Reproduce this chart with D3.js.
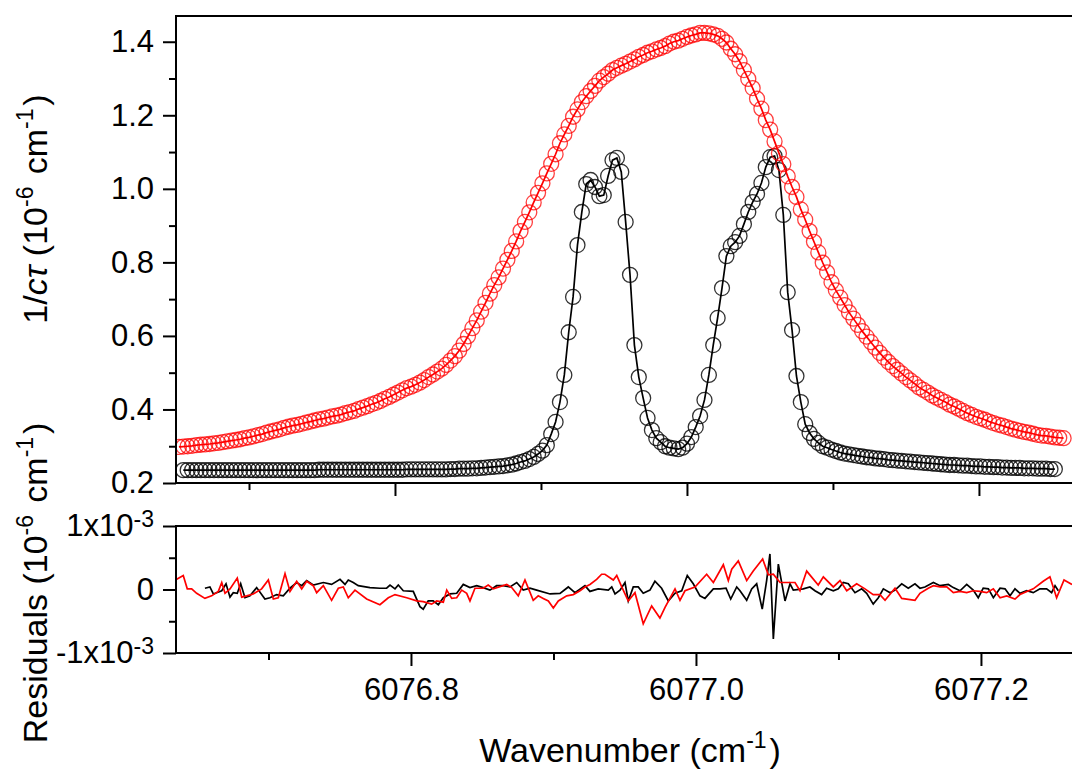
<!DOCTYPE html>
<html>
<head>
<meta charset="utf-8">
<script src="https://cdnjs.cloudflare.com/ajax/libs/d3/7.8.5/d3.min.js"></script>
<style>
  body { margin: 0; background: #fff; }
  text { font-family: "Liberation Sans", Arial, sans-serif; fill: #000; }
</style>
</head>
<body>
<div class="chart"></div>
<script>
// Wavenumber grid shared by both spectra (cm-1)
var wavenumber = [
  6076.652, 6076.655, 6076.658, 6076.661, 6076.664, 6076.667, 6076.670, 6076.673, 6076.676, 6076.679,
  6076.682, 6076.685, 6076.688, 6076.691, 6076.694, 6076.697, 6076.700, 6076.703, 6076.706, 6076.709,
  6076.712, 6076.715, 6076.718, 6076.721, 6076.724, 6076.727, 6076.730, 6076.733, 6076.736, 6076.739,
  6076.742, 6076.745, 6076.748, 6076.751, 6076.754, 6076.757, 6076.760, 6076.763, 6076.766, 6076.769,
  6076.772, 6076.775, 6076.778, 6076.781, 6076.784, 6076.787, 6076.790, 6076.793, 6076.796, 6076.799,
  6076.802, 6076.805, 6076.808, 6076.811, 6076.814, 6076.817, 6076.820, 6076.823, 6076.826, 6076.829,
  6076.832, 6076.835, 6076.838, 6076.841, 6076.844, 6076.847, 6076.850, 6076.853, 6076.856, 6076.859,
  6076.862, 6076.865, 6076.868, 6076.871, 6076.874, 6076.877, 6076.880, 6076.883, 6076.886, 6076.889,
  6076.892, 6076.895, 6076.898, 6076.901, 6076.904, 6076.907, 6076.910, 6076.913, 6076.916, 6076.919,
  6076.922, 6076.925, 6076.928, 6076.931, 6076.934, 6076.937, 6076.940, 6076.943, 6076.946, 6076.949,
  6076.952, 6076.955, 6076.958, 6076.961, 6076.964, 6076.967, 6076.970, 6076.973, 6076.976, 6076.979,
  6076.982, 6076.985, 6076.988, 6076.991, 6076.994, 6076.997, 6077.000, 6077.003, 6077.006, 6077.009,
  6077.012, 6077.015, 6077.018, 6077.021, 6077.024, 6077.027, 6077.030, 6077.033, 6077.036, 6077.039,
  6077.042, 6077.045, 6077.048, 6077.051, 6077.054, 6077.057, 6077.060, 6077.063, 6077.066, 6077.069,
  6077.072, 6077.075, 6077.078, 6077.081, 6077.084, 6077.087, 6077.090, 6077.093, 6077.096, 6077.099,
  6077.102, 6077.105, 6077.108, 6077.111, 6077.114, 6077.117, 6077.120, 6077.123, 6077.126, 6077.129,
  6077.132, 6077.135, 6077.138, 6077.141, 6077.144, 6077.147, 6077.150, 6077.153, 6077.156, 6077.159,
  6077.162, 6077.165, 6077.168, 6077.171, 6077.174, 6077.177, 6077.180, 6077.183, 6077.186, 6077.189,
  6077.192, 6077.195, 6077.198, 6077.201, 6077.204, 6077.207, 6077.210, 6077.213, 6077.216, 6077.219,
  6077.222, 6077.225, 6077.228, 6077.231, 6077.234, 6077.237, 6077.240, 6077.243, 6077.246, 6077.249,
  6077.252, 6077.255, 6077.258
];

// 1/c tau, narrow spectrum (black), 10^-6 cm-1
var blackObs = [
  null,
  0.235, 0.235, 0.235, 0.235, 0.235, 0.235, 0.235, 0.235, 0.235, 0.235,
  0.235, 0.235, 0.235, 0.235, 0.235, 0.235, 0.235, 0.235, 0.235, 0.235,
  0.235, 0.235, 0.235, 0.235, 0.235, 0.235, 0.235, 0.235, 0.235, 0.235, 0.235,
  0.236, 0.236, 0.236, 0.236, 0.236, 0.236, 0.236, 0.236, 0.236, 0.236,
  0.236, 0.236, 0.236, 0.236, 0.236, 0.236, 0.236, 0.236, 0.236, 0.236,
  0.237, 0.237, 0.237, 0.237, 0.237, 0.237, 0.237, 0.237, 0.237, 0.237,
  0.238, 0.238, 0.239, 0.239, 0.239, 0.240, 0.240,
  0.241, 0.242, 0.243, 0.244, 0.245, 0.246, 0.248, 0.250, 0.253, 0.257,
  0.260, 0.265, 0.271, 0.279, 0.288, 0.303, 0.333, 0.366, 0.420, 0.494,
  0.610, 0.706, 0.847, 0.937, 1.013, 1.024, 1.005, 0.980, 0.983, 1.035,
  1.078, 1.084, 1.046, 0.910, 0.766, 0.575, 0.488, 0.431, 0.377, 0.344,
  0.322, 0.311, 0.300, 0.296, 0.294, 0.292, 0.296, 0.307, 0.325, 0.352,
  0.382, 0.426, 0.494, 0.575, 0.649, 0.730, 0.817, 0.844, 0.855, 0.872,
  0.904, 0.937, 0.964, 0.986, 1.016, 1.059, 1.086, 1.089, 1.051, 0.929,
  0.719, 0.616, 0.491, 0.420, 0.360, 0.336, 0.320, 0.309, 0.300, 0.296,
  0.291, 0.287, 0.283,
  0.280, 0.278, 0.276, 0.274, 0.272, 0.270, 0.269, 0.267, 0.266, 0.265,
  0.263, 0.262, 0.261, 0.260, 0.259, 0.258, 0.257, 0.256, 0.255, 0.254,
  0.253, 0.252, 0.251, 0.250, 0.249, 0.249, 0.248, 0.247, 0.247, 0.246,
  0.245, 0.245, 0.244, 0.244, 0.243, 0.243, 0.242, 0.242, 0.241, 0.241,
  0.241, 0.240, 0.240, 0.240, 0.239, 0.239, 0.239, 0.238, 0.238,
  null, null
];

// 1/c tau, broadened spectrum (red), 10^-6 cm-1
var redObs = [
  0.298, 0.299, 0.300, 0.301, 0.303, 0.304, 0.305, 0.306, 0.308, 0.309,
  0.311, 0.313, 0.315, 0.317, 0.319, 0.322, 0.324, 0.327, 0.330, 0.333,
  0.337, 0.340, 0.343, 0.346, 0.350, 0.353, 0.356, 0.358, 0.361, 0.364,
  0.367, 0.370, 0.373, 0.375, 0.378, 0.381, 0.383, 0.386, 0.390, 0.393,
  0.396, 0.401, 0.405, 0.409, 0.414, 0.418, 0.423, 0.429, 0.434, 0.440,
  0.446, 0.452, 0.458, 0.462, 0.467, 0.473, 0.480, 0.488, 0.495, 0.503,
  0.511, 0.521, 0.533, 0.545, 0.560, 0.578, 0.599, 0.621, 0.642, 0.666,
  0.690, 0.715, 0.738, 0.759, 0.783, 0.807, 0.831, 0.857, 0.885, 0.910,
  0.936, 0.963, 0.989, 1.015, 1.042, 1.068, 1.094, 1.124, 1.148, 1.171,
  1.196, 1.216, 1.236, 1.252, 1.266, 1.280, 1.294, 1.304, 1.313, 1.323,
  1.329, 1.335, 1.340, 1.346, 1.352, 1.359, 1.364, 1.370, 1.374, 1.379,
  1.383, 1.388, 1.395, 1.400, 1.403, 1.408, 1.413, 1.417, 1.420, 1.424,
  1.424, 1.423, 1.420, 1.416, 1.408, 1.398, 1.381, 1.366, 1.347, 1.323,
  1.299, 1.274, 1.245, 1.218, 1.187, 1.161, 1.129, 1.097, 1.067, 1.034,
  1.005, 0.978, 0.944, 0.916, 0.885, 0.856, 0.827, 0.799, 0.773, 0.746,
  0.724, 0.704, 0.684, 0.664, 0.647, 0.630, 0.613, 0.598, 0.583, 0.568,
  0.554, 0.541, 0.529, 0.518, 0.508, 0.498, 0.488, 0.479, 0.470, 0.460,
  0.453, 0.446, 0.438, 0.432, 0.426, 0.420, 0.413, 0.408, 0.402, 0.396,
  0.390, 0.385, 0.380, 0.376, 0.372, 0.367, 0.363, 0.359, 0.356, 0.352,
  0.348, 0.345, 0.342, 0.339, 0.337, 0.334, 0.331, 0.329, 0.328, 0.326,
  0.324, 0.323, 0.322
];

// fit residuals [wavenumber, residual]
var resBlack = [
  [6076.6554, 0.00002], [6076.6589, 0.00004], [6076.6613, -0.00007], [6076.6636, -0.00005],
  [6076.6672, -0.00002], [6076.6702, 0.00009], [6076.6730, -0.00012], [6076.6753, -0.00005],
  [6076.6781, -0.00006], [6076.6805, 0.00009], [6076.6835, -0.00013], [6076.6870, -0.00010],
  [6076.6917, 0.00003], [6076.6975, -0.00015], [6076.7010, -0.00013], [6076.7057, -0.00008],
  [6076.7104, -0.00010], [6076.7151, 0.00002], [6076.7198, 0.00011], [6076.7233, 0.00006],
  [6076.7268, 0.00014], [6076.7314, 0.00007], [6076.7385, 0.00011], [6076.7443, 0.00008],
  [6076.7502, 0.00016], [6076.7537, 0.00008], [6076.7560, 0.00015], [6076.7595, 0.00011],
  [6076.7630, 0.00006], [6076.7712, 0.00003], [6076.7782, 0.00002], [6076.7829, 0.00002],
  [6076.7853, 0.00007], [6076.7888, 0.00001], [6076.7911, 0.00007], [6076.7946, -0.00002],
  [6076.8016, -0.00003], [6076.8063, -0.00027], [6076.8086, -0.00031], [6076.8121, -0.00018],
  [6076.8156, -0.00018], [6076.8192, -0.00024], [6076.8227, -0.00013], [6076.8274, -0.00007],
  [6076.8321, -0.00006], [6076.8367, 0.00008], [6076.8414, 0.00003], [6076.8461, 0.00006],
  [6076.8507, 0.00003], [6076.8554, -0.00001], [6076.8601, 0.00006], [6076.8648, 0.00006],
  [6076.8695, 0.00004], [6076.8742, 0.00011], [6076.8788, -0.00001], [6076.8835, 0.00002],
  [6076.8882, -0.00001], [6076.8976, -0.00007], [6076.9046, -0.00006], [6076.9104, 0.00004],
  [6076.9151, -0.00005], [6076.9221, 0.00006], [6076.9256, -0.00003], [6076.9314, 0.00001],
  [6076.9385, -0.00001], [6076.9409, 0.00004], [6076.9432, -0.00007], [6076.9467, -0.00001],
  [6076.9502, 0.00011], [6076.9525, -0.00018], [6076.9560, 0.00004], [6076.9595, 0.00004],
  [6076.9630, -0.00006], [6076.9677, -0.00001], [6076.9712, 0.00013], [6076.9759, 0.00002],
  [6076.9806, -0.00018], [6076.9853, -0.00006], [6076.9900, -0.00002], [6076.9939, 0.00022],
  [6076.9981, 0.00009], [6077.0028, -0.00010], [6077.0063, -0.00014], [6077.0122, 0.00001],
  [6077.0169, 0.00001], [6077.0211, 0.00002], [6077.0244, -0.00015], [6077.0286, 0.00004],
  [6077.0309, -0.00002], [6077.0356, -0.00017], [6077.0391, 0.00001], [6077.0426, 0.00009],
  [6077.0465, -0.00031], [6077.0496, 0.00014], [6077.0519, 0.00056], [6077.0543, -0.00078],
  [6077.0578, 0.00040], [6077.0625, -0.00018], [6077.0660, 0.00009], [6077.0683, -0.00001],
  [6077.0753, 0.00001], [6077.0800, 0.00004], [6077.0835, -0.00002], [6077.0882, -0.00008],
  [6077.0917, 0.00002], [6077.0964, -0.00002], [6077.0999, 0.00001], [6077.1034, 0.00011],
  [6077.1069, 0.00009], [6077.1116, -0.00005], [6077.1163, 0.00001], [6077.1198, -0.00006],
  [6077.1244, -0.00023], [6077.1280, -0.00013], [6077.1315, 0.00001], [6077.1362, -0.00005],
  [6077.1397, -0.00001], [6077.1444, 0.00009], [6077.1490, 0.00002], [6077.1537, 0.00009],
  [6077.1572, 0.00002], [6077.1607, 0.00004], [6077.1666, 0.00011], [6077.1713, 0.00006],
  [6077.1771, 0.00008], [6077.1806, 0.00003], [6077.1853, -0.00002], [6077.1900, 0.00008],
  [6077.1946, -0.00001], [6077.1981, -0.00013], [6077.2016, 0.00002], [6077.2052, 0.00001],
  [6077.2087, -0.00013], [6077.2134, 0.00002], [6077.2169, 0.00001], [6077.2204, -0.00010],
  [6077.2239, 0.00001], [6077.2274, -0.00006], [6077.2321, -0.00002], [6077.2367, -0.00005],
  [6077.2414, 0.00001], [6077.2461, 0.00001], [6077.2496, -0.00005], [6077.2520, 0.00006],
  [6077.2543, -0.00002]
];

var resRed = [
  [6076.6356, 0.00016], [6076.6402, 0.00022], [6076.6430, 0.00001], [6076.6461, 0.00001],
  [6076.6496, -0.00006], [6076.6554, -0.00014], [6076.6601, -0.00010], [6076.6648, -0.00003],
  [6076.6672, 0.00011], [6076.6695, -0.00006], [6076.6730, 0.00001], [6076.6781, 0.00018],
  [6076.6812, -0.00012], [6076.6847, -0.00010], [6076.6893, -0.00007], [6076.6952, 0.00001],
  [6076.6999, 0.00015], [6076.7034, -0.00015], [6076.7069, -0.00013], [6076.7116, 0.00025],
  [6076.7151, -0.00003], [6076.7198, 0.00013], [6076.7233, 0.00001], [6076.7268, 0.00013],
  [6076.7314, 0.00006], [6076.7338, -0.00005], [6076.7385, 0.00006], [6076.7443, -0.00017],
  [6076.7490, 0.00002], [6076.7525, 0.00004], [6076.7560, -0.00013], [6076.7607, -0.00001],
  [6076.7689, -0.00015], [6076.7782, -0.00024], [6076.7841, -0.00013], [6076.7888, -0.00008],
  [6076.7970, -0.00013], [6076.8040, -0.00018], [6076.8086, -0.00019], [6076.8145, -0.00023],
  [6076.8180, -0.00018], [6076.8227, -0.00020], [6076.8251, -0.00001], [6076.8286, -0.00014],
  [6076.8321, -0.00013], [6076.8356, -0.00001], [6076.8391, -0.00006], [6076.8414, -0.00018],
  [6076.8449, 0.00002], [6076.8507, 0.00002], [6076.8542, 0.00007], [6076.8578, 0.00001],
  [6076.8672, 0.00008], [6076.8707, 0.00003], [6076.8753, -0.00010], [6076.8800, 0.00015],
  [6076.8858, -0.00017], [6076.8893, -0.00010], [6076.8928, -0.00014], [6076.8964, -0.00018],
  [6076.8999, -0.00029], [6076.9034, -0.00018], [6076.9093, -0.00010], [6076.9139, -0.00008],
  [6076.9186, -0.00002], [6076.9221, 0.00004], [6076.9256, 0.00008], [6076.9303, 0.00016],
  [6076.9338, 0.00024], [6076.9361, 0.00024], [6076.9420, 0.00015], [6076.9444, 0.00022],
  [6076.9479, 0.00004], [6076.9525, -0.00018], [6076.9572, -0.00005], [6076.9630, -0.00054],
  [6076.9689, -0.00026], [6076.9747, -0.00045], [6076.9783, -0.00028], [6076.9853, 0.00001],
  [6076.9888, -0.00017], [6076.9923, -0.00002], [6076.9993, 0.00004], [6077.0075, 0.00024],
  [6077.0122, 0.00011], [6077.0192, 0.00039], [6077.0227, 0.00014], [6077.0251, 0.00032],
  [6077.0297, 0.00045], [6077.0356, 0.00014], [6077.0402, 0.00029], [6077.0468, 0.00048],
  [6077.0508, 0.00023], [6077.0543, 0.00024], [6077.0590, 0.00011], [6077.0695, 0.00011],
  [6077.0730, -0.00002], [6077.0777, 0.00029], [6077.0858, 0.00007], [6077.0894, 0.00020],
  [6077.0964, 0.00004], [6077.1011, 0.00014], [6077.1058, -0.00002], [6077.1128, 0.00009],
  [6077.1186, 0.00001], [6077.1244, -0.00008], [6077.1291, -0.00008], [6077.1327, -0.00017],
  [6077.1397, 0.00002], [6077.1444, -0.00014], [6077.1537, -0.00017], [6077.1572, -0.00006],
  [6077.1630, 0.00002], [6077.1666, 0.00006], [6077.1713, 0.00004], [6077.1760, 0.00004],
  [6077.1806, -0.00005], [6077.1853, -0.00003], [6077.1900, -0.00005], [6077.1946, -0.00002],
  [6077.1993, -0.00003], [6077.2040, -0.00005], [6077.2087, 0.00001], [6077.2134, -0.00013],
  [6077.2181, -0.00010], [6077.2239, -0.00015], [6077.2274, -0.00008], [6077.2367, 0.00001],
  [6077.2437, 0.00013], [6077.2484, 0.00020], [6077.2531, -0.00013], [6077.2583, 0.00015],
  [6077.2639, 0.00008]
];

// ticks
var yMajor = [0.2, 0.4, 0.6, 0.8, 1.0, 1.2, 1.4];
var yMinor = [0.3, 0.5, 0.7, 0.9, 1.1, 1.3];
var xMajor = [6076.8, 6077.0, 6077.2];
var xMinor = [6076.7, 6076.9, 6077.1];
var resMajor = [-0.001, 0, 0.001];
var resMinor = [-0.0005, 0.0005];

var svgWidth = 1072;
var svgHeight = 769;
var plotLeft = 176, plotRight = 1075;
var top1 = 16, bottom1 = 483;   // spectrum panel
var top2 = 526, bottom2 = 653;  // residual panel

var svg = d3.select(".chart")
  .append("svg")
  .attr("width", svgWidth)
  .attr("height", svgHeight);

var xSpec = d3.scaleLinear().domain([6076.65, 6077.2658]).range([plotLeft, plotRight]);
var ySpec = d3.scaleLinear().domain([0.2, 1.47]).range([bottom1, top1]);
var xRes = d3.scaleLinear().domain([6076.6351, 6077.266]).range([plotLeft, plotRight]);
var yRes = d3.scaleLinear().domain([-0.001, 0.001]).range([bottom2, top2]);

var defs = svg.append("defs");
defs.append("clipPath").attr("id", "clip1").append("rect")
  .attr("x", plotLeft).attr("y", top1).attr("width", plotRight - plotLeft).attr("height", bottom1 - top1);
defs.append("clipPath").attr("id", "clip2").append("rect")
  .attr("x", plotLeft).attr("y", top2).attr("width", plotRight - plotLeft).attr("height", bottom2 - top2);

var blackPts = wavenumber.map(function(w, i) { return [w, blackObs[i]]; })
  .filter(function(d) { return d[1] != null; });
var redPts = wavenumber.map(function(w, i) { return [w, redObs[i]]; });

var specLine = d3.line()
  .x(function(d) { return xSpec(d[0]); })
  .y(function(d) { return ySpec(d[1]); });

var resLine = d3.line()
  .x(function(d) { return xRes(d[0]); })
  .y(function(d) { return yRes(d[1]); });

var spec = svg.append("g").attr("clip-path", "url(#clip1)");

function drawSeries(pts, color, alpha) {
  spec.append("g").selectAll("circle")
    .data(pts)
    .enter()
    .append("circle")
    .attr("cx", function(d) { return xSpec(d[0]); })
    .attr("cy", function(d) { return ySpec(d[1]); })
    .attr("r", 7.5)
    .attr("fill", "none")
    .attr("stroke", color)
    .attr("stroke-opacity", alpha)
    .attr("stroke-width", 1.3);
  spec.append("path")
    .datum(pts)
    .attr("d", specLine)
    .attr("fill", "none")
    .attr("stroke", color)
    .attr("stroke-width", 1.7);
}
drawSeries(blackPts, "#000", 0.8);
drawSeries(redPts, "#ff0000", 0.75);

var res = svg.append("g").attr("clip-path", "url(#clip2)");
res.append("path").datum(resBlack).attr("d", resLine)
  .attr("fill", "none").attr("stroke", "#000").attr("stroke-width", 1.7);
res.append("path").datum(resRed).attr("d", resLine)
  .attr("fill", "none").attr("stroke", "#ff0000").attr("stroke-width", 1.7);

// axes
function styleAxis(g) {
  g.select(".domain").remove();
  g.attr("font-family", '"Liberation Sans", Arial, sans-serif').attr("font-size", 31);
  g.selectAll(".tick line").attr("stroke", "#000").attr("stroke-width", 2);
  g.selectAll(".tick text").attr("fill", "#000");
}

function addAxis(axis, tx, ty) {
  svg.append("g").attr("transform", "translate(" + tx + "," + ty + ")").call(axis).call(styleAxis);
}

addAxis(d3.axisLeft(ySpec).tickValues(yMajor).tickSize(13).tickPadding(9)
  .tickFormat(d3.format(".1f")).tickSizeOuter(0), plotLeft, 0);
addAxis(d3.axisLeft(ySpec).tickValues(yMinor).tickSize(7).tickFormat("").tickSizeOuter(0), plotLeft, 0);
addAxis(d3.axisBottom(xSpec).tickValues(xMajor).tickSize(13).tickFormat("").tickSizeOuter(0), 0, bottom1);
addAxis(d3.axisBottom(xSpec).tickValues(xMinor).tickSize(7).tickFormat("").tickSizeOuter(0), 0, bottom1);

addAxis(d3.axisBottom(xRes).tickValues(xMajor).tickSize(13).tickPadding(12)
  .tickFormat(d3.format(".1f")).tickSizeOuter(0), 0, bottom2);
addAxis(d3.axisBottom(xRes).tickValues(xMinor).tickSize(7).tickFormat("").tickSizeOuter(0), 0, bottom2);
addAxis(d3.axisLeft(yRes).tickValues(resMinor).tickSize(7).tickFormat("").tickSizeOuter(0), plotLeft, 0);

var resAxis = svg.append("g").attr("transform", "translate(" + plotLeft + ",0)")
  .call(d3.axisLeft(yRes).tickValues(resMajor).tickSize(13).tickPadding(9).tickSizeOuter(0))
  .call(styleAxis);
resAxis.selectAll(".tick text").each(function(d) {
  var t = d3.select(this).text(null);
  if (d === 0) { t.text("0"); return; }
  t.append("tspan").text(d < 0 ? "-1x10" : "1x10");
  t.append("tspan").attr("dy", "-0.4em").attr("font-size", 23).text("-3");
});

// frames
[[top1, bottom1], [top2, bottom2]].forEach(function(p) {
  svg.append("rect")
    .attr("x", plotLeft).attr("y", p[0])
    .attr("width", plotRight - plotLeft).attr("height", p[1] - p[0])
    .attr("fill", "none").attr("stroke", "#000").attr("stroke-width", 2);
});

// axis titles
function supText(g, parts) {
  parts.forEach(function(p) {
    if (p.sup) {
      g.append("tspan").attr("dy", -14).attr("font-size", 23).text(p.t);
      g.append("tspan").attr("dy", 14).text("\u200a");
    } else {
      var s = g.append("tspan").text(p.t);
      if (p.it) s.attr("font-style", "italic");
    }
  });
}

var yTitle = svg.append("text")
  .attr("transform", "translate(47,209) rotate(-90)")
  .attr("text-anchor", "middle")
  .attr("font-size", 34);
supText(yTitle, [{ t: "1/" }, { t: "c\u03c4", it: true }, { t: " (10" }, { t: "-6", sup: true },
  { t: " cm" }, { t: "-1", sup: true }, { t: ")" }]);

var rTitle = svg.append("text")
  .attr("transform", "translate(47,583) rotate(-90)")
  .attr("text-anchor", "middle")
  .attr("font-size", 34);
supText(rTitle, [{ t: "Residuals (10" }, { t: "-6", sup: true }, { t: " cm" }, { t: "-1", sup: true }, { t: ")" }]);

var xTitle = svg.append("text")
  .attr("x", 630)
  .attr("y", 762)
  .attr("text-anchor", "middle")
  .attr("font-size", 34);
supText(xTitle, [{ t: "Wavenumber (cm" }, { t: "-1", sup: true }, { t: ")" }]);
</script>
</body>
</html>
